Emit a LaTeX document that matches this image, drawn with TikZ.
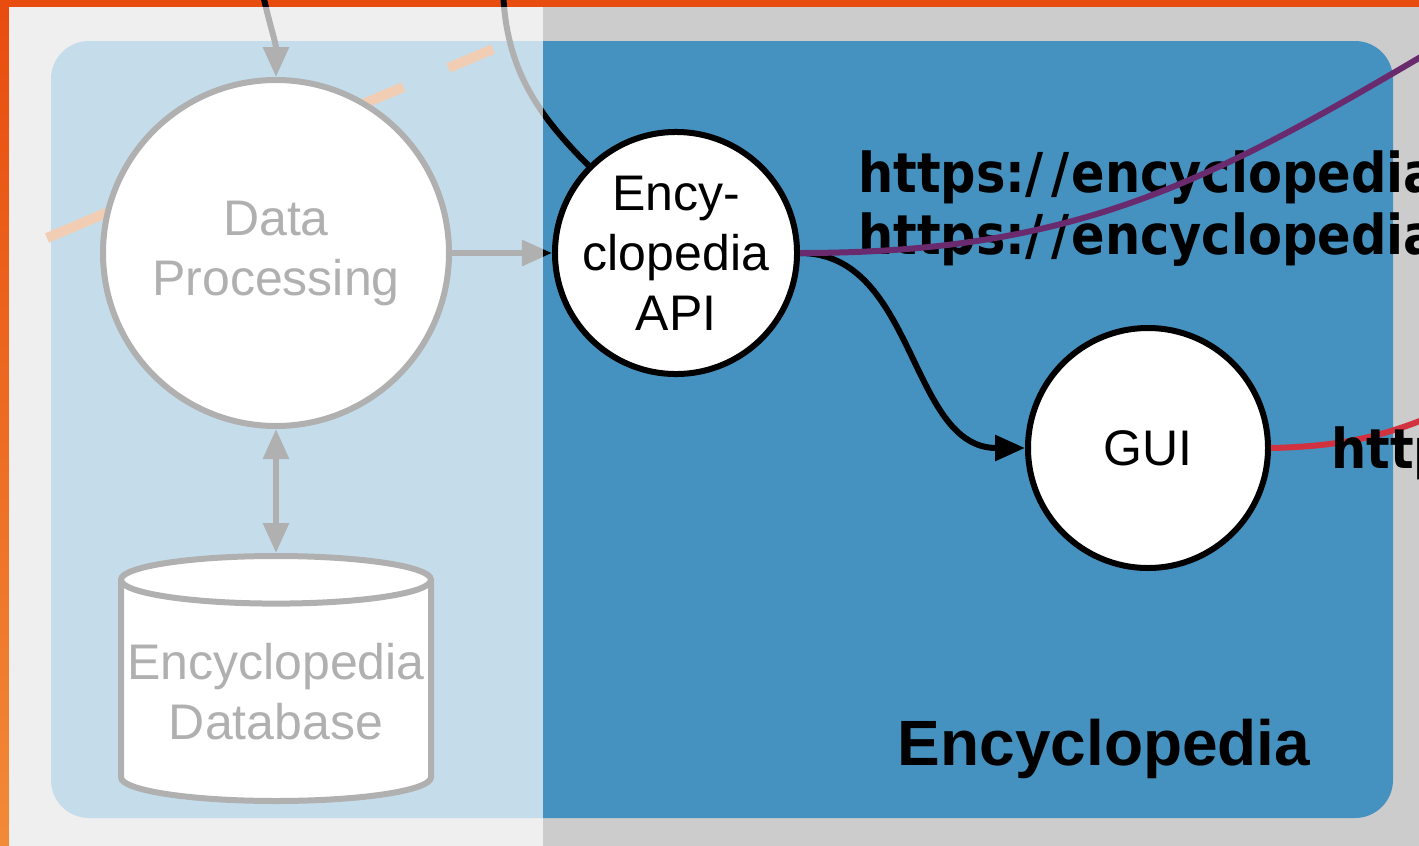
\documentclass[tikz,border=0pt]{standalone}
\usepackage{fontspec}
\setmainfont{Liberation Sans}
\newfontfamily\urlfont{DejaVu Sans Condensed}
\usetikzlibrary{arrows.meta,shapes.geometric}

\definecolor{edgetop}{HTML}{E84C0E}
\definecolor{edgelow}{HTML}{F28A38}
\definecolor{backgray}{HTML}{CCCCCC}
\definecolor{encblue}{HTML}{4592C0}
\definecolor{feedorange}{HTML}{D55E0D}
\definecolor{webpurple}{HTML}{6A2B6E}
\definecolor{guired}{HTML}{D2323F}

\newcommand{\slashes}{/\kern8pt/\kern2pt}

\tikzset{
  process/.style={circle, draw=black, fill=white, line width=6pt, inner sep=0pt,
    align=center, font=\fontsize{50}{60}\selectfont},
  store/.style={cylinder, shape border rotate=90, aspect=0.16, draw=black, fill=white,
    line width=6pt, inner sep=0pt, minimum width=310pt, minimum height=245pt,
    align=center, font=\fontsize{50}{60}\selectfont},
  flow/.style={line width=6pt, -{Triangle[length=30pt,width=25pt]}},
  link/.style={line width=6pt},
  url/.style={anchor=base west, inner sep=0pt, align=left,
    font=\urlfont\bfseries\fontsize{55}{62}\selectfont},
}

\begin{document}
\begin{tikzpicture}[x=1pt,y=-1pt]
\useasboundingbox (0,0) rectangle (1419,846);
\clip (0,0) rectangle (1419,846);

% backdrop and frame
\fill[backgray] (0,0) rectangle (1419,846);
\fill[edgetop] (0,0) rectangle (1419,7);
\shade[top color=edgetop, bottom color=edgelow] (0,0) rectangle (9,846);
\fill[encblue, rounded corners=38pt] (51,41) rectangle (1393,818);

% incoming feed, behind the processing step
\coordinate (feedA) at (47,238);
\coordinate (feedB) at (493,49);
\draw[feedorange, line width=10pt, dash pattern=on 79pt off 259pt on 49pt off 49pt on 49pt] (feedA) -- (feedB);

% steps
\node[process, minimum size=346pt] (proc) at (276,253) {Data\\Processing};
\node[process, minimum size=240pt] (api) at (676,253) {Ency-\\clopedia\\API};
\node[process, minimum size=240pt] (gui) at (1148,448) {GUI};
\node[store, anchor=north] (db) at (276,553) {Encyclopedia\\Database};

% ends that leave the picture
\coordinate (crawl) at (262,-10);
\coordinate (client) at (503,-10);
\coordinate (webout) at (1500,10);
\coordinate (userout) at (1520,370);

\draw[flow] (crawl) to[out=-78,in=90] (proc.north);
\draw[line width=6pt] (client) to[out=-88,in=135] (api.135);
\draw[flow] (proc.east) -- (api.west);
\draw[line width=6pt, {Triangle[length=30pt,width=25pt]}-{Triangle[length=30pt,width=25pt]}] (proc.south) -- (db.north);
\draw[flow] (api.east) to[out=0,in=180] (gui.west);
\draw[link, guired] (gui.east) .. controls +(90,-2) and (1420,430) .. (userout);

% addresses
\node[url] (apiurl) at (858,254) {https:\slashes encyclopedia\\https:\slashes encyclopedia};
\node[url] (guiurl) at (1331,468) {http};
\draw[link, webpurple] (api.east) .. controls +(300,0) and (1230,170) .. (webout);

\node[anchor=base, font=\bfseries\fontsize{64}{70}\selectfont] (title) at (1104,765) {Encyclopedia};

% faded half
\fill[white, opacity=0.69] (9,7) rectangle (543,846);
\end{tikzpicture}
\end{document}
